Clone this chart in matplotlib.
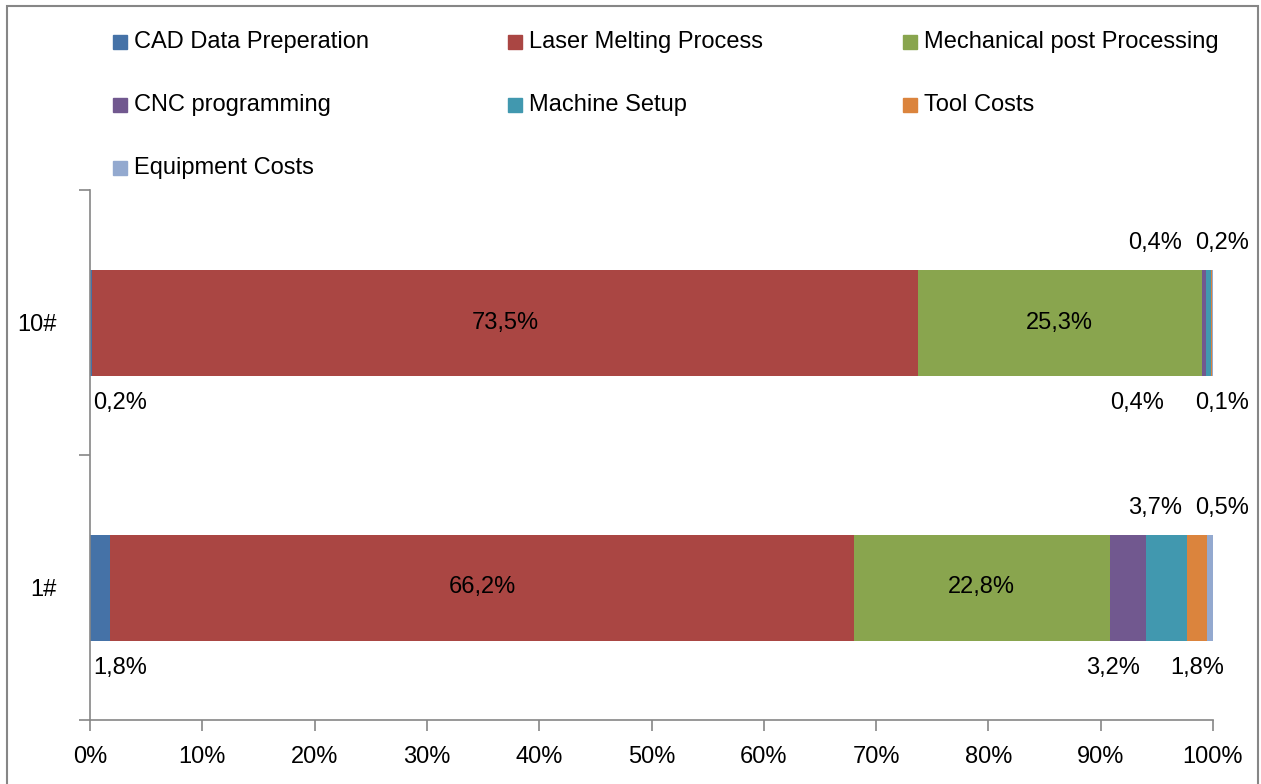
import matplotlib
matplotlib.use("Agg")
import matplotlib.pyplot as plt
from matplotlib.patches import Rectangle
import numpy as np

plt.rcParams["font.family"] = ["Liberation Sans", "DejaVu Sans"]

# cost shares per build job (percent)
categories = ["1#", "10#"]
components = ["CAD Data Preperation", "Laser Melting Process", "Mechanical post Processing",
              "CNC programming", "Machine Setup", "Tool Costs", "Equipment Costs"]
share_1 = [1.8, 66.2, 22.8, 3.2, 3.7, 1.8, 0.5]
share_10 = [0.2, 73.5, 25.3, 0.4, 0.4, 0.1, 0.2]
colors = ["#4572A7", "#AA4643", "#89A54E", "#71588F", "#4198AF", "#DB843D", "#93A9CF"]
xticks = [0, 10, 20, 30, 40, 50, 60, 70, 80, 90, 100]

# where each segment label goes: "in" = centered, "below"/"above" = outside the bar
label_pos = ["below", "in", "in", "below", "above", "below", "above"]
# hand-tuned x for the outside labels (percent axis units)
label_x_1 = [2.7, None, None, 91.1, 94.8, 98.6, 100.8]
label_x_10 = [2.7, None, None, 93.2, 94.8, 100.8, 100.8]

fig = plt.figure(figsize=(12.61, 7.84), dpi=100)
ax = fig.add_axes([90 / 1261, 1 - 720 / 784, (1213 - 90) / 1261, 530 / 784])

ypos = [0.5, 1.5]
fs = 17
for vals, lx, y in [(share_1, label_x_1, ypos[0]), (share_10, label_x_10, ypos[1])]:
    left = 0.0
    for i, v in enumerate(vals):
        ax.barh(y, v, left=left, height=0.4, color=colors[i], edgecolor="none")
        txt = f"{v:.1f}%".replace(".", ",")
        if label_pos[i] == "in":
            ax.text(left + v / 2, y, txt, ha="center", va="center", fontsize=fs)
        elif label_pos[i] == "below":
            ax.text(lx[i], y - 0.305, txt, ha="center", va="center", fontsize=fs)
        else:
            ax.text(lx[i], y + 0.30, txt, ha="center", va="center", fontsize=fs)
        left += v

ax.set_xlim(0, 100)
ax.set_ylim(0, 2)
ax.set_xticks(xticks)
ax.set_xticklabels([f"{t}%" for t in xticks], fontsize=fs)
ax.set_yticks(ypos)
ax.set_yticklabels(categories, fontsize=fs)
ax.set_yticks([0, 1, 2], minor=True)
ax.tick_params(axis="y", which="major", length=0, pad=24)
ax.tick_params(axis="y", which="minor", length=8, color="#868686", width=1.2)
ax.tick_params(axis="x", length=8, color="#868686", width=1.2, pad=11)
for s in ["top", "right"]:
    ax.spines[s].set_visible(False)
for s in ["left", "bottom"]:
    ax.spines[s].set_color("#868686")
    ax.spines[s].set_linewidth(1.2)

# legend laid out row by row, three per row
col_x = [113, 508, 903]
row_y = [42, 105, 168]
for i, name in enumerate(components):
    cx = col_x[i % 3]
    cy = row_y[i // 3]
    fig.patches.append(Rectangle((cx / 1261, 1 - (cy + 7) / 784), 14 / 1261, 14 / 784,
                                 transform=fig.transFigure, color=colors[i]))
    fig.text((cx + 21) / 1261, 1 - cy / 784, name, ha="left", va="center", fontsize=fs)

# outer chart frame
fig.patches.append(Rectangle((7 / 1261, -0.02), 1251 / 1261, 1.02 - 6 / 784,
                             transform=fig.transFigure, fill=False,
                             edgecolor="#868686", linewidth=1.5))

fig.savefig("out.png", dpi=100)
